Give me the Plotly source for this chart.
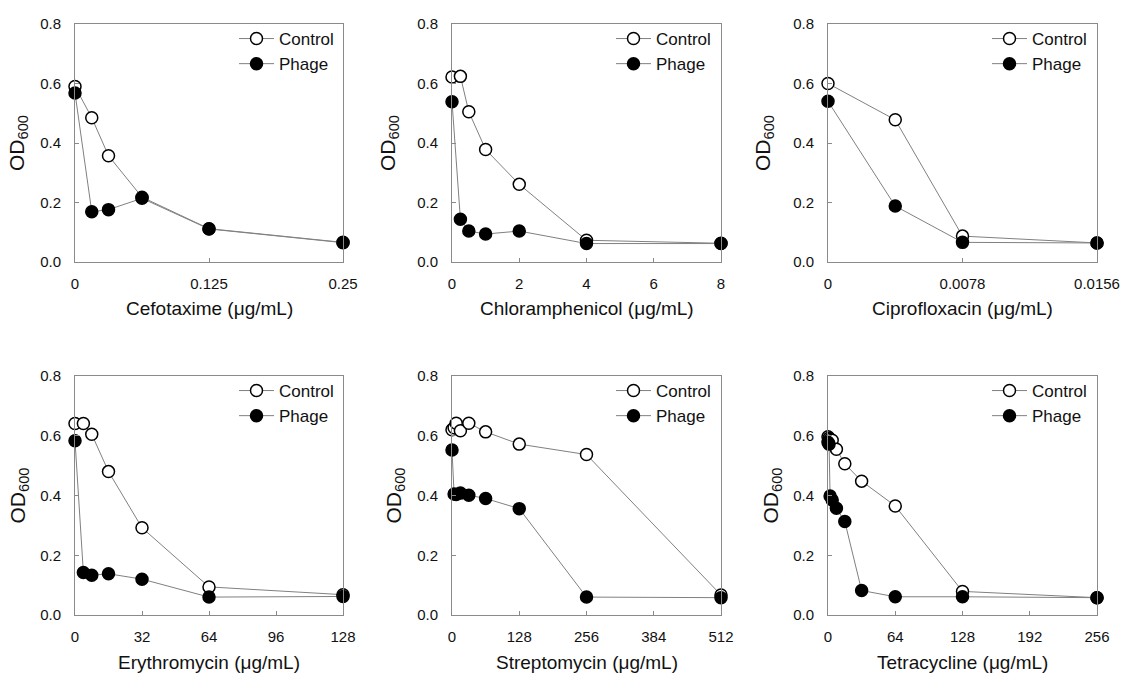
import plotly.graph_objects as go

# ---------------- data ----------------
drugs = ["Cefotaxime", "Chloramphenicol", "Ciprofloxacin",
         "Erythromycin", "Streptomycin", "Tetracycline"]

cef_x = [0, 0.015625, 0.03125, 0.0625, 0.125, 0.25]
cef_control = [0.590, 0.485, 0.357, 0.218, 0.112, 0.066]
cef_phage = [0.568, 0.169, 0.176, 0.214, 0.111, 0.065]

chl_x = [0, 0.25, 0.5, 1, 2, 4, 8]
chl_control = [0.622, 0.624, 0.505, 0.378, 0.261, 0.073, 0.063]
chl_phage = [0.539, 0.144, 0.104, 0.094, 0.104, 0.062, 0.062]

cip_x = [0, 0.0039, 0.0078, 0.0156]
cip_control = [0.600, 0.478, 0.087, 0.064]
cip_phage = [0.540, 0.188, 0.066, 0.064]

ery_x = [0, 4, 8, 16, 32, 64, 128]
ery_control = [0.641, 0.641, 0.605, 0.480, 0.292, 0.094, 0.068]
ery_phage = [0.583, 0.142, 0.133, 0.138, 0.120, 0.060, 0.062]

str_x = [0, 4, 8, 16, 32, 64, 128, 256, 512]
str_control = [0.620, 0.627, 0.642, 0.617, 0.642, 0.613, 0.572, 0.537, 0.067]
str_phage = [0.552, 0.405, 0.403, 0.408, 0.401, 0.390, 0.356, 0.060, 0.058]

tet_x = [0, 1, 2, 4, 8, 16, 32, 64, 128, 256]
tet_control = [0.597, 0.592, 0.588, 0.585, 0.555, 0.506, 0.448, 0.365, 0.079, 0.058]
tet_phage = [0.578, 0.572, 0.398, 0.385, 0.357, 0.313, 0.082, 0.061, 0.061, 0.058]

xs = [cef_x, chl_x, cip_x, ery_x, str_x, tet_x]
controls = [cef_control, chl_control, cip_control, ery_control, str_control, tet_control]
phages = [cef_phage, chl_phage, cip_phage, ery_phage, str_phage, tet_phage]

x_ranges = [[0, 0.25], [0, 8], [0, 0.0156], [0, 128], [0, 512], [0, 256]]
x_tickvals = [[0, 0.125, 0.25], [0, 2, 4, 6, 8], [0, 0.0078, 0.0156],
              [0, 32, 64, 96, 128], [0, 128, 256, 384, 512], [0, 64, 128, 192, 256]]
x_ticktext = [["0", "0.125", "0.25"], ["0", "2", "4", "6", "8"], ["0", "0.0078", "0.0156"],
              ["0", "32", "64", "96", "128"], ["0", "128", "256", "384", "512"],
              ["0", "64", "128", "192", "256"]]
y_ticks = [0.0, 0.2, 0.4, 0.6, 0.8]

# ---------------- layout geometry (px) ----------------
W, H = 1125, 673
col_px = [(75, 343), (452, 721), (828, 1097)]
row_px = [(24, 262), (376, 615)]
ytitle_off = [57, 63, 64, 57, 58, 57]

FONT = "Arial, Liberation Sans, sans-serif"
GRAY = "#8a8a8a"
LINE = "#808080"

fig = go.Figure()
layout = dict(width=W, height=H, autosize=False,
              margin=dict(l=0, r=0, t=0, b=0, pad=0, autoexpand=False),
              paper_bgcolor="white", plot_bgcolor="white",
              font=dict(family=FONT, color="#111111"))
annotations = []

for i in range(6):
    r, c = divmod(i, 3)
    n = "" if i == 0 else str(i + 1)
    xa, ya = "x" + n, "y" + n
    lg = "legend" + n
    x0, x1 = col_px[c]
    y0, y1 = row_px[r]

    fig.add_trace(go.Scatter(
        x=xs[i], y=controls[i], mode="lines+markers", name="Control",
        xaxis=xa, yaxis=ya, legend=lg, cliponaxis=False,
        line=dict(color=LINE, width=1),
        marker=dict(symbol="circle", size=12, color="white",
                    line=dict(color="black", width=1.5))))
    fig.add_trace(go.Scatter(
        x=xs[i], y=phages[i], mode="lines+markers", name="Phage",
        xaxis=xa, yaxis=ya, legend=lg, cliponaxis=False,
        line=dict(color=LINE, width=1),
        marker=dict(symbol="circle", size=12, color="black",
                    line=dict(color="black", width=1.5))))

    layout["xaxis" + n] = dict(
        domain=[x0 / W, x1 / W], anchor=ya, range=x_ranges[i],
        tickvals=x_tickvals[i], ticktext=x_ticktext[i], automargin=False,
        showline=True, linecolor=GRAY, linewidth=1, mirror=True,
        ticks="inside", ticklen=4, tickcolor=GRAY,
        showgrid=False, zeroline=False, ticklabelstandoff=8,
        tickfont=dict(size=15, family=FONT, color="#111111"))
    layout["yaxis" + n] = dict(
        domain=[1 - y1 / H, 1 - y0 / H], anchor=xa, range=[0, 0.8],
        tickvals=y_ticks, tickformat=".1f", automargin=False,
        showline=True, linecolor=GRAY, linewidth=1, mirror=True,
        ticks="inside", ticklen=4, tickcolor=GRAY,
        showgrid=False, zeroline=False, ticklabelstandoff=10,
        tickfont=dict(size=15, family=FONT, color="#111111"))
    layout[lg] = dict(
        x=(x0 + 159) / W, y=1 - (y0 - 3) / H, xanchor="left", yanchor="top",
        bgcolor="rgba(0,0,0,0)", borderwidth=0, itemwidth=35,
        font=dict(size=17, family=FONT, color="#111111"))

    annotations.append(dict(
        text=drugs[i] + " (μg/mL)", xref=xa + " domain", yref=ya + " domain",
        x=0.5, y=0, yshift=-47, showarrow=False, xanchor="center", yanchor="middle",
        font=dict(size=19, family=FONT, color="#111111")))
    annotations.append(dict(
        text="OD<sub>600</sub>", xref=xa + " domain", yref=ya + " domain",
        x=0, y=0.5, xshift=-ytitle_off[i], showarrow=False, textangle=-90,
        xanchor="center", yanchor="middle",
        font=dict(size=21, family=FONT, color="#111111")))

layout["annotations"] = annotations
fig.update_layout(**layout)
fig.write_html("out.html", config={"displayModeBar": False},
               post_script="document.body.style.margin='0px';document.body.style.overflow='hidden';")
